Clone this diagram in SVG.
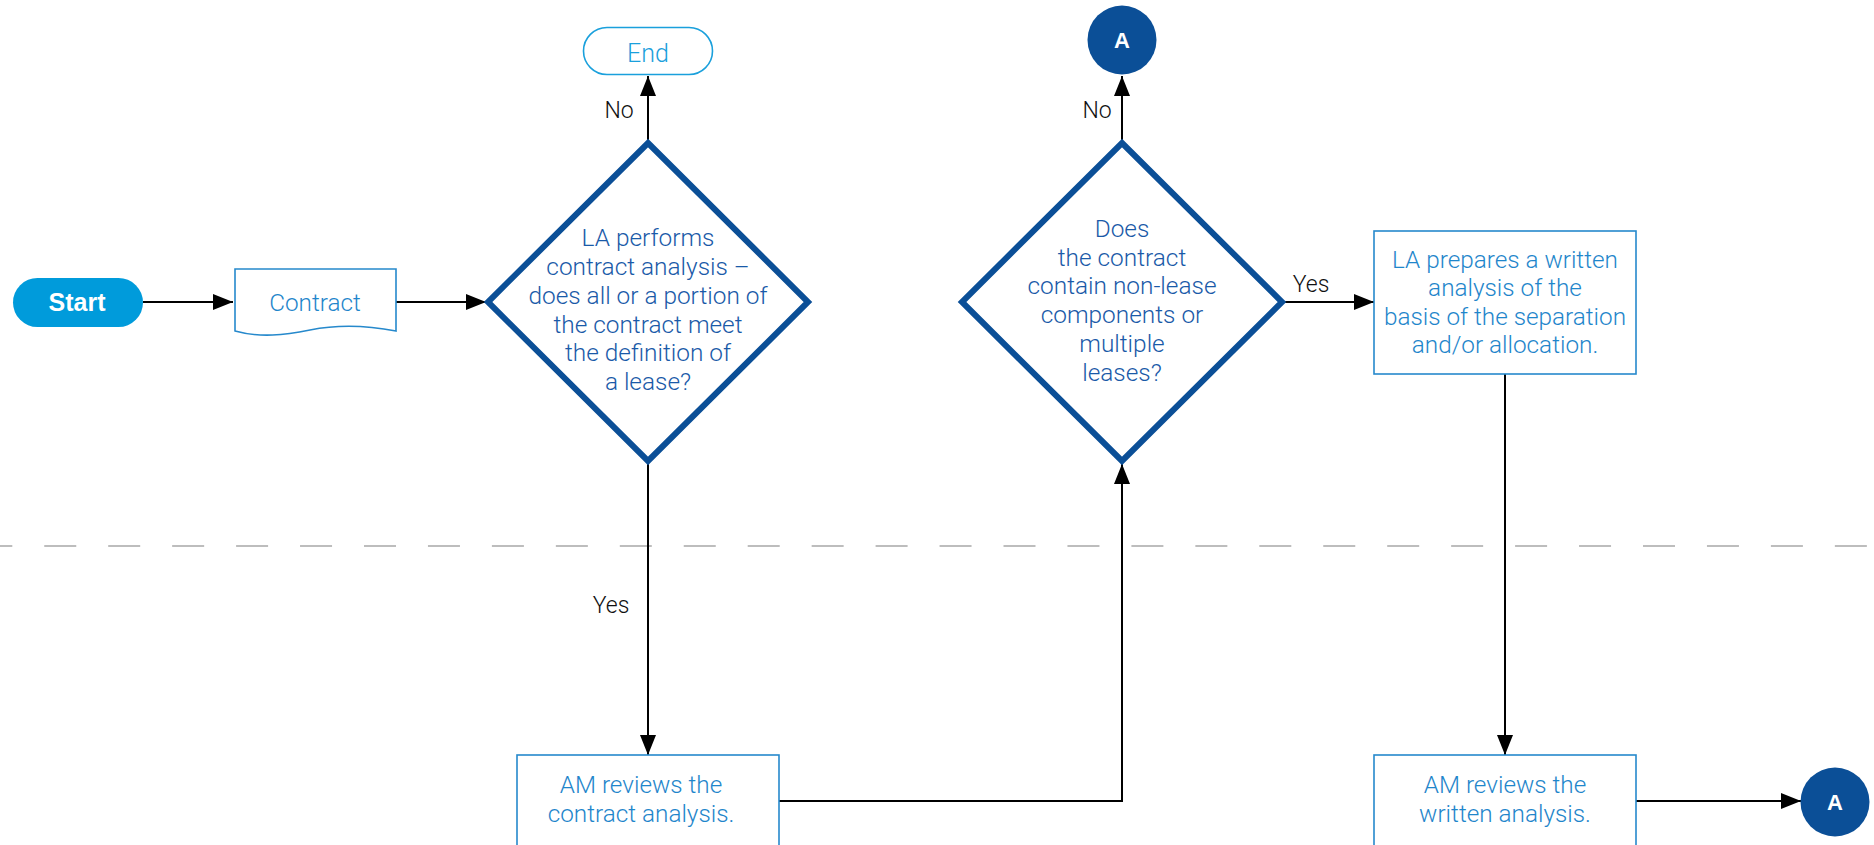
<svg xmlns="http://www.w3.org/2000/svg" width="1874" height="845" viewBox="0 0 1874 845">
<style>
.t{font-family:Roboto,"Liberation Sans",sans-serif;font-weight:300;text-anchor:middle}
.dt{fill:#1a5aa8;font-size:24.4px}
.bt{fill:#1f86cb;font-size:24.3px}
.lbl{font-family:Roboto,"Liberation Sans",sans-serif;font-weight:300;fill:#111;font-size:23px;text-anchor:middle}
.box{fill:#fff;stroke:#2689cc;stroke-width:1.6}
.dia{fill:#fff;stroke:#0b4f97;stroke-width:6}
.con{fill:none;stroke:#000;stroke-width:2}
.bold{font-family:"Liberation Sans",Arial,sans-serif;font-weight:bold;fill:#fff;text-anchor:middle}
</style>
<defs>
<marker id="ah" markerUnits="userSpaceOnUse" markerWidth="20" markerHeight="16" refX="20" refY="8" orient="auto">
<path d="M0,0 L20,8 L0,16 z" fill="#000"/>
</marker>
</defs>
<rect width="1874" height="845" fill="#fff"/>
<line x1="-19.7" y1="546" x2="1874" y2="546" stroke="#bdbdbd" stroke-width="2" stroke-dasharray="32 31.95"/>
<g id="connectors">
<line class="con" x1="143" y1="302" x2="233" y2="302" marker-end="url(#ah)"/>
<line class="con" x1="396" y1="302" x2="486" y2="302" marker-end="url(#ah)"/>
<line class="con" x1="648" y1="143" x2="648" y2="76" marker-end="url(#ah)"/>
<line class="con" x1="648" y1="462" x2="648" y2="755" marker-end="url(#ah)"/>
<polyline class="con" points="779,801 1122,801 1122,464" marker-end="url(#ah)"/>
<line class="con" x1="1122" y1="143" x2="1122" y2="76" marker-end="url(#ah)"/>
<line class="con" x1="1282" y1="302" x2="1374" y2="302" marker-end="url(#ah)"/>
<line class="con" x1="1505" y1="374" x2="1505" y2="755" marker-end="url(#ah)"/>
<line class="con" x1="1636" y1="801" x2="1801" y2="801" marker-end="url(#ah)"/>
<text class="lbl" x="619" y="118">No</text>
<text class="lbl" x="611" y="613">Yes</text>
<text class="lbl" x="1097" y="118">No</text>
<text class="lbl" x="1311" y="292">Yes</text>
</g>
<g id="start">
<rect x="13" y="278" width="130" height="49" rx="24.5" fill="#009bdb"/>
<text class="bold" x="77" y="311" font-size="25">Start</text>
</g>
<g id="contract">
<path class="box" d="M235,269 H396 V331 C370,326 340,324 310,330 C285,335 260,338 235,331 Z"/>
<text class="t bt" x="315" y="311">Contract</text>
</g>
<g id="end">
<rect x="583.5" y="27.5" width="129" height="47" rx="23.5" fill="#fff" stroke="#1aa0dc" stroke-width="1.6"/>
<text class="t" x="648" y="62" font-size="25" fill="#1aa0dc">End</text>
</g>
<g id="decision1">
<polygon class="dia" points="648,143 808,302 648,461 488,302"/>
<text class="t dt" x="648" y="246">LA performs</text>
<text class="t dt" x="648" y="275">contract analysis –</text>
<text class="t dt" x="648" y="304">does all or a portion of</text>
<text class="t dt" x="648" y="333">the contract meet</text>
<text class="t dt" x="648" y="361">the definition of</text>
<text class="t dt" x="648" y="390">a lease?</text>
</g>
<g id="review1">
<rect class="box" x="517" y="755" width="262" height="100"/>
<text class="t bt" x="641" y="793">AM reviews the</text>
<text class="t bt" x="641" y="822">contract analysis.</text>
</g>
<g id="decision2">
<polygon class="dia" points="1122,143 1282,302 1122,461 962,302"/>
<text class="t dt" x="1122" y="237" font-size="25.8">Does</text>
<text class="t dt" x="1122" y="266" font-size="25.8">the contract</text>
<text class="t dt" x="1122" y="294" font-size="25.8">contain non-lease</text>
<text class="t dt" x="1122" y="323" font-size="25.8">components or</text>
<text class="t dt" x="1122" y="352" font-size="25.8">multiple</text>
<text class="t dt" x="1122" y="381" font-size="25.8">leases?</text>
</g>
<g id="connectorA-top">
<circle cx="1122" cy="40" r="34.5" fill="#0b4f97"/>
<text class="bold" x="1122" y="48" font-size="22">A</text>
</g>
<g id="prepare">
<rect class="box" x="1374" y="231" width="262" height="143"/>
<text class="t bt" x="1505" y="268">LA prepares a written</text>
<text class="t bt" x="1505" y="296">analysis of the</text>
<text class="t bt" x="1505" y="325">basis of the separation</text>
<text class="t bt" x="1505" y="353">and/or allocation.</text>
</g>
<g id="review2">
<rect class="box" x="1374" y="755" width="262" height="100"/>
<text class="t bt" x="1505" y="793">AM reviews the</text>
<text class="t bt" x="1505" y="822">written analysis.</text>
</g>
<g id="connectorA-bottom">
<circle cx="1835" cy="802" r="34.5" fill="#0b4f97"/>
<text class="bold" x="1835" y="810" font-size="22">A</text>
</g>
</svg>
